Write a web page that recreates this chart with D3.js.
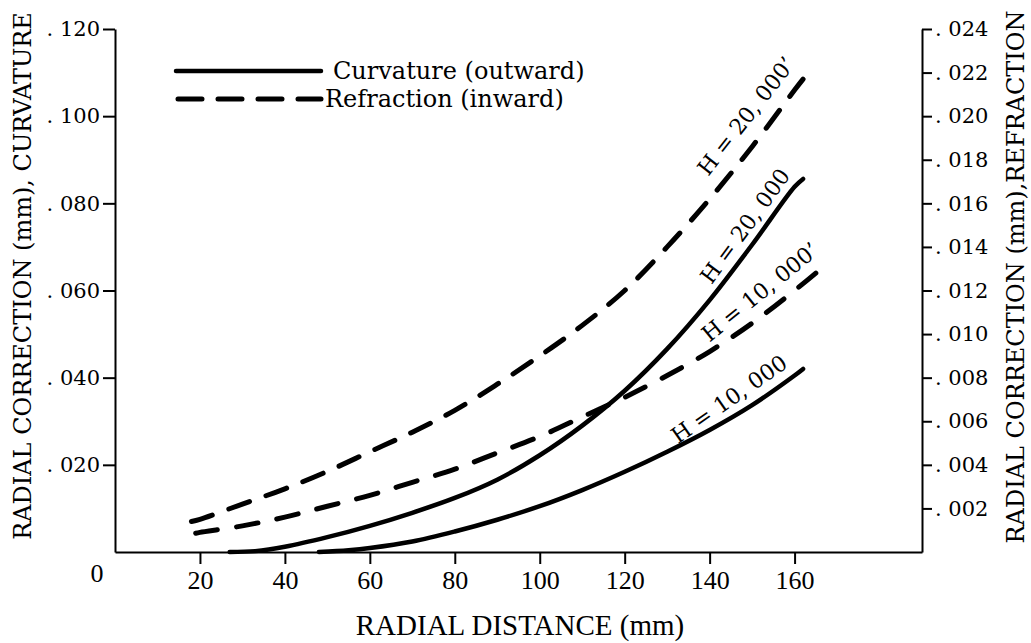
<!DOCTYPE html>
<head>
  <meta charset="utf-8">
  <script src="https://cdn.jsdelivr.net/npm/d3@7"></script>
  <style>
    body { margin:0; background:#fff; }
    svg { display:block; }
    text { fill:#000; }
  </style>
</head>

<body>
  <script>
  // chart size
  var width = 1031;
  var height = 643;

  // radial distance (mm) for each curve, with values
  var curvH20kR   = [27, 33, 40, 50, 60, 70, 80, 90, 100, 110, 120, 130, 140, 150, 160, 162];
  var curvH20kVal = [0, 0.0002, 0.0012, 0.0034, 0.0060, 0.0090, 0.0124, 0.0166, 0.0222, 0.0290, 0.0370, 0.0466, 0.0578, 0.0705, 0.0838, 0.0856];

  var curvH10kR   = [48, 55, 60, 70, 80, 90, 100, 110, 120, 130, 140, 150, 160, 162];
  var curvH10kVal = [0, 0.0004, 0.0009, 0.0024, 0.0047, 0.0074, 0.0105, 0.0142, 0.0184, 0.0230, 0.0280, 0.0337, 0.0405, 0.0420];

  var refrH20kR   = [18, 20, 30, 40, 50, 60, 70, 80, 90, 100, 110, 120, 130, 140, 150, 160, 162];
  var refrH20kVal = [0.0014, 0.0015, 0.0022, 0.0029, 0.0037, 0.0046, 0.0055, 0.0065, 0.0077, 0.0090, 0.0104, 0.0120, 0.0140, 0.0162, 0.0186, 0.0212, 0.0217];

  var refrH10kR   = [19, 20, 30, 40, 50, 60, 70, 80, 90, 100, 110, 120, 130, 140, 150, 160, 165];
  var refrH10kVal = [0.00086, 0.0009, 0.0012, 0.0016, 0.0021, 0.0026, 0.0032, 0.0038, 0.00455, 0.0053, 0.0062, 0.0071, 0.0081, 0.0092, 0.0105, 0.0120, 0.0128];

  // tick values
  var xTicks = [20, 40, 60, 80, 100, 120, 140, 160];
  var leftTicks = [0.02, 0.04, 0.06, 0.08, 0.10, 0.12];
  var rightTicks = [0.002, 0.004, 0.006, 0.008, 0.010, 0.012, 0.014, 0.016, 0.018, 0.020, 0.022, 0.024];

  var legendLabels = ["Curvature (outward)", "Refraction (inward)"];
  var curveLabels = ["H = 20, 000\u2019", "H = 20, 000", "H = 10, 000\u2019", "H = 10, 000"];

  var serif = "'DejaVu Serif', serif";
  var narrow = "'Liberation Serif', 'Times New Roman', 'DejaVu Serif', serif";

  var svg = d3.select("body").append("svg")
    .attr("width", width)
    .attr("height", height);

  // scales
  var x = d3.scaleLinear().domain([0, 190]).range([115, 922]);
  var yL = d3.scaleLinear().domain([0, 0.12]).range([552, 29]);
  var yR = d3.scaleLinear().domain([0, 0.024]).range([552, 29]);

  // axes
  var fmt = function(d) { return ". " + d3.format(".3f")(d).slice(2); };

  var gx = svg.append("g")
    .attr("transform", "translate(0,552)")
    .call(d3.axisBottom(x).tickValues(xTicks).tickSize(12).tickSizeOuter(0).tickPadding(5).tickFormat(d3.format("d")));
  gx.selectAll("text").style("font-family", narrow).style("font-size", "26px").attr("dy", "0.75em");

  var gl = svg.append("g")
    .attr("transform", "translate(115,0)")
    .call(d3.axisLeft(yL).tickValues(leftTicks).tickSize(12).tickSizeOuter(0).tickPadding(3).tickFormat(fmt));
  gl.selectAll("text").style("font-family", serif).style("font-size", "21px");

  var gr = svg.append("g")
    .attr("transform", "translate(922,0)")
    .call(d3.axisRight(yR).tickValues(rightTicks).tickSize(10).tickSizeOuter(0).tickPadding(3).tickFormat(fmt));
  gr.selectAll("text").style("font-family", serif).style("font-size", "21px");

  svg.selectAll(".domain, .tick line").attr("stroke", "#000").attr("stroke-width", 2);

  // zero label at the corner
  svg.append("text")
    .attr("x", 97).attr("y", 582)
    .attr("text-anchor", "middle")
    .style("font-family", narrow).style("font-size", "26px")
    .text("0");

  // axis titles
  svg.append("text")
    .attr("transform", "translate(31,276) rotate(-90)")
    .attr("text-anchor", "middle")
    .style("font-family", serif).style("font-size", "24px")
    .text("RADIAL CORRECTION (mm),  CURVATURE");

  svg.append("text")
    .attr("transform", "translate(1024,277) rotate(-90)")
    .attr("text-anchor", "middle")
    .style("font-family", serif).style("font-size", "24px")
    .text("RADIAL CORRECTION (mm),REFRACTION");

  svg.append("text")
    .attr("x", 520).attr("y", 635)
    .attr("text-anchor", "middle")
    .style("font-family", narrow).style("font-size", "29px")
    .text("RADIAL DISTANCE (mm)");

  // curves
  function pts(rs, vs) { return rs.map(function(r, i) { return [r, vs[i]]; }); }

  var lineL = d3.line().x(function(d) { return x(d[0]); }).y(function(d) { return yL(d[1]); }).curve(d3.curveCatmullRom.alpha(0.5));
  var lineR = d3.line().x(function(d) { return x(d[0]); }).y(function(d) { return yR(d[1]); }).curve(d3.curveCatmullRom.alpha(0.5));

  svg.append("path").attr("d", lineL(pts(curvH20kR, curvH20kVal)))
    .attr("fill", "none").attr("stroke", "#000").attr("stroke-width", 4.5).attr("stroke-linecap", "round");
  svg.append("path").attr("d", lineL(pts(curvH10kR, curvH10kVal)))
    .attr("fill", "none").attr("stroke", "#000").attr("stroke-width", 4.5).attr("stroke-linecap", "round");

  // dashed curves: stretch the gaps a little so each line starts and ends on a dash
  function dashed(d) {
    var p = svg.append("path").attr("d", d)
      .attr("fill", "none").attr("stroke", "#000").attr("stroke-width", 5)
      .attr("stroke-linecap", "round");
    var len = p.node().getTotalLength();
    var dsh = 22, gap = 18;
    var n = Math.round((len + gap) / (dsh + gap));
    gap = (len - n * dsh) / (n - 1);
    p.attr("stroke-dasharray", dsh + "," + gap);
  }
  dashed(lineR(pts(refrH20kR, refrH20kVal)));
  dashed(lineR(pts(refrH10kR, refrH10kVal)));

  // curve labels, rotated along the lines
  var labelPos = [[746, 116, -52], [745, 226, -54], [760, 292, -39], [729, 399, -35]];
  svg.selectAll(".clabel").data(curveLabels).enter()
    .append("text")
    .attr("class", "clabel")
    .attr("text-anchor", "middle")
    .attr("dy", "0.35em")
    .attr("transform", function(d, i) {
      var p = labelPos[i];
      return "translate(" + p[0] + "," + p[1] + ") rotate(" + p[2] + ")";
    })
    .style("font-family", serif).style("font-size", "22px")
    .text(function(d) { return d; });

  // legend
  svg.append("line").attr("x1", 176).attr("x2", 321).attr("y1", 71).attr("y2", 71)
    .attr("stroke", "#000").attr("stroke-width", 4.5).attr("stroke-linecap", "round");
  svg.append("line").attr("x1", 178).attr("x2", 321).attr("y1", 99).attr("y2", 99)
    .attr("stroke", "#000").attr("stroke-width", 5).attr("stroke-linecap", "round").attr("stroke-dasharray", "24,16");

  svg.selectAll(".leg").data(legendLabels).enter()
    .append("text")
    .attr("x", function(d, i) { return i == 0 ? 333 : 325; })
    .attr("y", function(d, i) { return 79 + i * 28; })
    .style("font-family", serif).style("font-size", "24px")
    .text(function(d) { return d; });
  </script>
</body>
</html>
